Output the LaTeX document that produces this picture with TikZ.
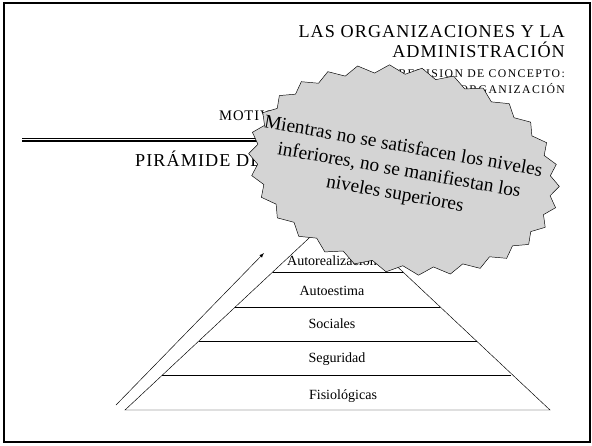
\documentclass[tikz,border=0pt]{standalone}
\usepackage{fontspec}
\setmainfont{Liberation Serif}
\newfontfamily\spacedfont[LetterSpace=6]{Liberation Serif}
\newfontfamily\widefont[LetterSpace=12]{Liberation Serif}
\usetikzlibrary{shapes.symbols}
\begin{document}
\begin{tikzpicture}[x=0.03cm,y=-0.03cm,
  title/.style={anchor=base east,font=\spacedfont\fontsize{15.5}{17}\selectfont},
  subtitle/.style={anchor=base east,font=\widefont\fontsize{10}{12}\selectfont},
  level/.style={font=\fontsize{12}{14}\selectfont},
  burst/.style={starburst,starburst points=30,starburst point height=0.25cm,random starburst=0,
    draw,fill=black!17,rotate=-10,minimum width=9.4cm,minimum height=6.2cm,inner sep=0pt}]
\useasboundingbox (0,0) rectangle (592,445);
\draw[line width=1.6pt] (4,3) rectangle (590,442);
% titulo
\node[title] (tit1) at (569,37) {LAS ORGANIZACIONES Y LA};
\node[title] (tit2) at (569,57) {ADMINISTRACIÓN};
\node[subtitle] (sub1) at (569,77) {REVISION DE CONCEPTO:};
\node[subtitle] (sub2) at (569,93) {ORGANIZACIÓN};
\node[anchor=base west,font=\spacedfont\fontsize{12.5}{14}\selectfont] (mot) at (215,120) {MOTIVACIÓN};
\draw (22,138) -- (500,138);
\draw[line width=1.5pt] (22,141) -- (500,141);
\node[anchor=base west,font=\spacedfont\fontsize{15.5}{17}\selectfont] (pir) at (131,166) {PIRÁMIDE DE MASLOW};
% piramide
\draw (125,410) -- (338,211) -- (550,410) -- cycle;
\foreach \y/\l/\r in {375.5/162/511,341/199/477,307/235/440,272/273/403} {
  \draw (\l,\y) -- (\r,\y);
}
\foreach \x/\y/\t in {343/396/Fisiológicas,337/359/Seguridad,332/324/Sociales,332/291/Autoestima,332/261/Autorealización} {
  \node[level] (lvl-\y) at (\x,\y) {\t};
}
\coordinate (up0) at (116,405);
\coordinate (up1) at (264,253);
\draw[-latex] (up0) -- (up1);
% nota
\node[burst] (estrella) at (404,170) {};
\node[align=center,rotate=-10,font=\fontsize{16.5}{20.5}\selectfont] (nota) at (399,171)
  {Mientras no se satisfacen los niveles\\inferiores, no se manifiestan los\\niveles superiores};
\end{tikzpicture}
\end{document}
